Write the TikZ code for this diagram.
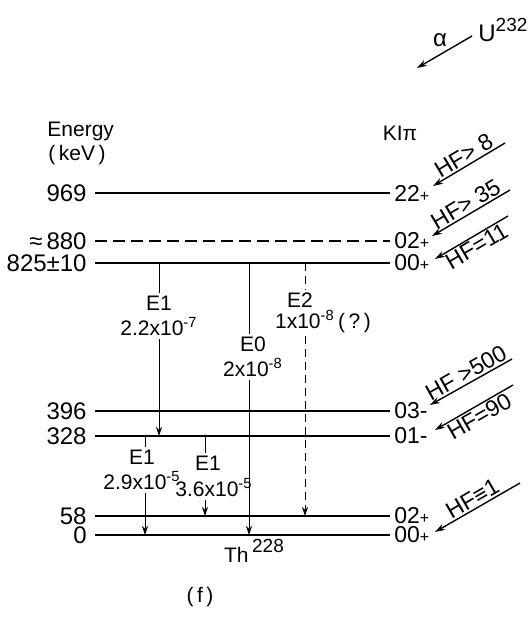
\documentclass[tikz,border=0pt]{standalone}
\usepackage{fontspec}
\setmainfont{Liberation Sans}
\usetikzlibrary{arrows.meta,positioning}
\newcommand{\isot}[1]{\raisebox{0.85ex}{\fontsize{9.5}{10}\selectfont #1}}

\begin{document}
\begin{tikzpicture}[x=0.5pt, y=-0.5pt, every node/.style={font=\fontsize{10.5}{12.5}\selectfont, inner sep=1pt}]
\tikzset{lvl/.style={line width=1.4pt}}
\tikzset{lvldash/.style={line width=1.4pt, dash pattern=on 6pt off 3pt}}
\tikzset{trans/.style={line width=0.5pt}}
\tikzset{tip/.style={-{Stealth[length=4.5pt,width=3pt]}}}
\tikzset{hf/.style={line width=0.7pt, -{Stealth[length=5pt,width=3.2pt]}}}
\tikzset{lab/.style={align=center, inner sep=1.5pt}}
\tikzset{elab/.style={font=\fontsize{12}{14}\selectfont}}
\tikzset{klab/.style={font=\fontsize{11.5}{14}\selectfont}}
\tikzset{hflab/.style={sloped, font=\fontsize{11.5}{13}\selectfont, inner sep=0.8pt}}
\useasboundingbox (0,0) rectangle (529,617);

% headings
\node[anchor=west] (energy) at (45,131) {Energy};
\node[anchor=west] (kev) at (46,155) {(\,keV\,)};
\node (kipi) at (400,133) {KIπ};

% levels
\foreach \nm/\y in {a/193, b/241, c/263, d/411, e/436, f/516, g/535} {
  \coordinate (\nm0) at (95,\y);
  \coordinate (\nm1) at (390,\y);
}
\draw[lvl] (a0) -- (a1);
\draw[lvldash] (b0) -- (b1);
\draw[lvl] (c0) -- (c1);
\draw[lvl] (d0) -- (d1);
\draw[lvl] (e0) -- (e1);
\draw[lvl] (f0) -- (f1);
\draw[lvl] (g0) -- (g1);

\node[elab, left=3pt of a0] (ea) {969};
\node[elab, left=3pt of b0] (eb) {≈\,880};
\node[elab, left=3pt of c0] (ec) {825±10};
\node[elab, left=3pt of d0] (ed) {396};
\node[elab, left=3pt of e0] (ee) {328};
\node[elab, left=3pt of f0] (ef) {58};
\node[elab, left=3pt of g0] (eg) {0};

\node[klab, right=1pt of a1] (ka) {22{\footnotesize+}};
\node[klab, right=1pt of b1] (kb) {02{\footnotesize+}};
\node[klab, right=1pt of c1] (kc) {00{\footnotesize+}};
\node[klab, right=1pt of d1] (kd) {03-};
\node[klab, right=1pt of e1] (ke) {01-};
\node[klab, right=1pt of f1] (kf) {02{\footnotesize+}};
\node[klab, right=1pt of g1] (kg) {00{\footnotesize+}};

% transitions
\node[lab] (t1) at (159,316) {E1\\2.2x10\textsuperscript{-7}};
\draw[trans] (t1 |- c0) -- (t1.north);
\draw[trans, tip] (t1.south) -- (t1 |- e0);

\node[lab] (t2) at (253,357) {E0\\2x10\textsuperscript{-8}};
\draw[trans] (249,263) coordinate (t2a) -- (t2a |- t2.north);
\draw[trans, tip] (t2a |- t2.south) -- (t2a |- g0);

\node (t3a) at (300,300) {E2};
\node (t3b) at (323,322) {1x10\textsuperscript{-8}\,(\,?\,)};
\coordinate (t3) at (305,263);
\draw[trans, dash pattern=on 4pt off 2.5pt] (t3) -- (t3 |- t3a.north);
\draw[trans, tip, dash pattern=on 4pt off 2.5pt] (t3 |- t3b.south) -- (t3 |- f0);

\node[lab] (t4) at (142,470) {E1\\2.9x10\textsuperscript{-5}};
\draw[trans] (145,436) coordinate (t4a) -- (t4a |- t4.north);
\draw[trans, tip] (t4a |- t4.south) -- (t4a |- g0);

\node (t5a) at (208,463) {E1};
\node (t5b) at (214,488) {3.6x10\textsuperscript{-5}};
\draw[trans] (205,436) coordinate (t5) -- (t5 |- t5a.north);
\draw[trans, tip] (t5 |- t5b.south) -- (t5 |- f0);

\node (th) at (254,551) {Th\,\isot{228}};
\node (fig) at (200,597) {(\,f\,)};

% alpha decay
\coordinate (al0) at (472,36);
\coordinate (al1) at (417,68);
\draw[hf] (al0) -- (al1);
\node[font=\fontsize{12}{14}\selectfont] (alpha) at (440,40) {α};
\node[anchor=west, font=\fontsize{12}{14}\selectfont] (parent) at (476,30) {U\isot{232}};

% hindrance factors
\coordinate (h1a) at (505,143); \coordinate (h1b) at (433,186);
\coordinate (h2a) at (510,190); \coordinate (h2b) at (432,236);
\coordinate (h3a) at (508,216); \coordinate (h3b) at (435,259);
\coordinate (h4a) at (512,359); \coordinate (h4b) at (430,405);
\coordinate (h5a) at (513,385); \coordinate (h5b) at (435,430);
\coordinate (h6a) at (520,483); \coordinate (h6b) at (435,532);
\draw[hf] (h1a) -- node[hflab, above] {HF> 8} (h1b);
\draw[hf] (h2a) -- node[hflab, above] {HF> 35} (h2b);
\draw[hf] (h3a) -- node[hflab, below] {HF=11} (h3b);
\draw[hf] (h4a) -- node[hflab, above] {HF >500} (h4b);
\draw[hf] (h5a) -- node[hflab, below] {HF=90} (h5b);
\draw[hf] (h6a) -- node[hflab, above] {HF≡1} (h6b);
\end{tikzpicture}
\end{document}
